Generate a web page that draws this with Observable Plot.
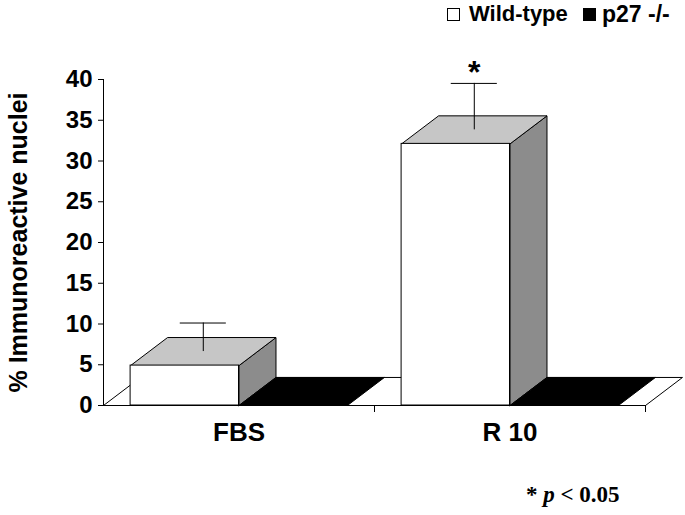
<!DOCTYPE html>
<html>
<head>
<meta charset="utf-8">
<script src="https://cdn.jsdelivr.net/npm/d3@7"></script>
<script src="https://cdn.jsdelivr.net/npm/@observablehq/plot@0.6"></script>
<style>
  html, body { margin: 0; padding: 0; background: #fff; }
  body { position: relative; width: 685px; height: 515px; overflow: hidden; font-family: "Liberation Sans", Arial, sans-serif; }
  #legend { position: absolute; left: 0; top: 0; width: 685px; height: 30px; font-weight: bold; font-size: 22px; line-height: 22px; color: #000; }
  #legend .sw { position: absolute; width: 11px; height: 11px; border: 1.5px solid #000; top: 8px; }
  #legend .lb { position: absolute; top: 3px; white-space: nowrap; }
  #chart { position: absolute; left: 0; top: 30px; }
  #caption { position: absolute; left: 526px; top: 483px; font-family: "Liberation Serif", "Times New Roman", serif; font-weight: bold; font-size: 23px; line-height: 23px; white-space: nowrap; }
</style>
</head>
<body>
<div id="legend"></div>
<div id="chart"></div>
<div id="caption"></div>
<script>
// ---- data ----
const categories = ["FBS", "R 10"];
const genotypes = ["Wild-type", "p27 -/-"];
const wildType = [4.9, 32.1];
const wildTypeErr = [3.5, 5.7];
const p27 = [0, 0];
const p27Err = [0, 0];
const significance = ["", "*"];
const yTicks = [0, 5, 10, 15, 20, 25, 30, 35, 40];
const yLabel = "% Immunoreactive nuclei";

// ---- legend & caption ----
const legend = document.getElementById("legend");
legend.innerHTML =
  `<span class="sw" style="left:447px;background:#fff"></span>` +
  `<span class="lb" style="left:469px">${genotypes[0]}</span>` +
  `<span class="sw" style="left:583px;background:#000"></span>` +
  `<span class="lb" style="left:602px;font-size:23px">${genotypes[1]}</span>`;
document.getElementById("caption").innerHTML = `* <i>p</i> &lt; 0.05`;

// ---- 3D geometry (depth expressed in scale units) ----
const DX = 0.1365;   // depth along x (category units)
const DY = 3.44;     // depth along y (value units)
const BAR_W = 0.4, PAD = 0.1;
const TOP_FILL = "#c6c6c6", SIDE_FILL = "#8c8c8c";

const bars = [];
categories.forEach((c, i) => {
  [[wildType, wildTypeErr, "#ffffff"], [p27, p27Err, "#000000"]].forEach(([vals, errs, fill], j) => {
    const x1 = i + PAD + BAR_W * j;
    bars.push({cat: c, geno: genotypes[j], x1, x2: x1 + BAR_W, v: vals[i], err: errs[i], fill, sig: j === 0 ? significance[i] : ""});
  });
});

// polygons: floor, then per bar side + top
const polys = [];
let pid = 0;
function addPoly(pts, fill) {
  const id = pid++;
  pts.concat([pts[0]]).forEach(([x, y]) => polys.push({id, x, y, fill}));
}
addPoly([[0, 0], [categories.length, 0], [categories.length + DX, DY], [DX, DY]], "#ffffff");
bars.forEach(b => {
  if (b.v > 0) addPoly([[b.x2, 0], [b.x2, b.v], [b.x2 + DX, b.v + DY], [b.x2 + DX, DY]], SIDE_FILL);
  addPoly([[b.x1, b.v], [b.x2, b.v], [b.x2 + DX, b.v + DY], [b.x1 + DX, b.v + DY]], b.v > 0 ? TOP_FILL : b.fill);
});

const errBars = bars.filter(b => b.err > 0).map(b => {
  const xm = (b.x1 + b.x2) / 2 + DX / 2;
  return {xm, xa: xm - 0.085, xb: xm + 0.085, lo: b.v + DY / 2, hi: b.v + b.err + DY / 2, sig: b.sig};
});

const font = "Liberation Sans, Arial, sans-serif";

const chart = Plot.plot({
  width: 685,
  height: 450,
  marginLeft: 103,
  marginRight: 40,
  marginTop: 49,
  marginBottom: 75,
  style: {fontFamily: font, fontWeight: "bold", color: "#000", background: "#fff", overflow: "visible"},
  x: {domain: [0, categories.length]},
  y: {domain: [0, 40]},
  color: {type: "identity"},
  marks: [
    Plot.line(polys, {x: "x", y: "y", z: "id", fill: "fill", stroke: "#000", strokeWidth: 1, curve: "linear"}),
    Plot.rect(bars.filter(b => b.v > 0), {x1: "x1", x2: "x2", y1: 0, y2: "v", fill: "fill", stroke: "#000", strokeWidth: 1}),
    Plot.ruleX(errBars, {x: "xm", y1: "lo", y2: "hi", stroke: "#000", strokeWidth: 1}),
    Plot.ruleY(errBars, {y: "hi", x1: "xa", x2: "xb", stroke: "#000", strokeWidth: 1}),
    Plot.text(errBars.filter(e => e.sig), {x: "xm", y: "hi", text: "sig", dy: -11, fontSize: 32, fontWeight: "bold", fontFamily: font, lineAnchor: "middle"}),
    Plot.ruleX([0], {y1: 0, y2: 40, stroke: "#000", strokeWidth: 1}),
    Plot.axisY({ticks: yTicks, tickSize: 5, tickPadding: 6, fontSize: 24, fontWeight: "bold", fontFamily: font, label: null, stroke: "#000", strokeWidth: 1}),
    Plot.axisX({ticks: d3.range(1, categories.length + 1), tickSize: 7, tickFormat: () => "", label: null, stroke: "#000", strokeWidth: 1}),
    Plot.axisX({ticks: categories.map((c, i) => i + 0.5), tickSize: 0, tickPadding: 17, tickFormat: d => categories[Math.floor(d)], fontSize: 26, fontWeight: "bold", fontFamily: font, label: null}),
    Plot.text([yLabel], {text: d => d, frameAnchor: "left", dx: -85, rotate: -90, fontSize: 25, fontWeight: "bold", fontFamily: font, textAnchor: "middle", lineAnchor: "middle"})
  ]
});
document.getElementById("chart").appendChild(chart);
</script>
</body>
</html>
